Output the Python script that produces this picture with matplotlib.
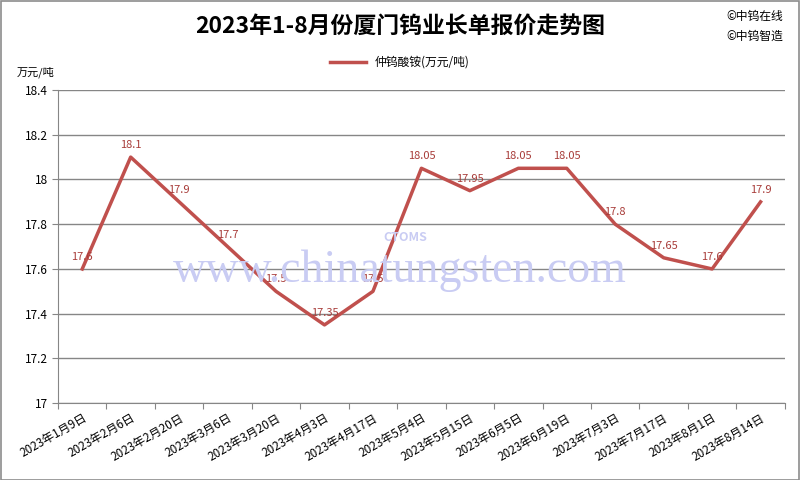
import matplotlib
matplotlib.use('Agg')
import matplotlib.pyplot as plt

plt.rcParams['font.family'] = ['Noto Sans CJK SC', 'DejaVu Sans']

DATES = ['2023年1月9日', '2023年2月6日', '2023年2月20日', '2023年3月6日',
         '2023年3月20日', '2023年4月3日', '2023年4月17日', '2023年5月4日',
         '2023年5月15日', '2023年6月5日', '2023年6月19日', '2023年7月3日',
         '2023年7月17日', '2023年8月1日', '2023年8月14日']
PRICES = [17.6, 18.1, 17.9, 17.7, 17.5, 17.35, 17.5, 18.05,
          17.95, 18.05, 18.05, 17.8, 17.65, 17.6, 17.9]
LABELS = ['17.6', '18.1', '17.9', '17.7', '17.5', '17.35', '17.5', '18.05',
          '17.95', '18.05', '18.05', '17.8', '17.65', '17.6', '17.9']
YTICKS = [17, 17.2, 17.4, 17.6, 17.8, 18, 18.2, 18.4]
YTICK_LABELS = ['17', '17.2', '17.4', '17.6', '17.8', '18', '18.2', '18.4']

LINE_C = '#C0504D'
GRID_C = '#868686'

fig = plt.figure(figsize=(8, 4.8), dpi=100)
fig.patches.append(plt.Rectangle((0.001, 0.001), 0.998, 0.997, transform=fig.transFigure,
                                 fill=False, edgecolor='#8c8c8c', linewidth=1.2))
ax = fig.add_axes([0.0725, 0.16, 0.9085, 0.6525])

# watermark
fig.text(0.5, 0.435, 'www.chinatungsten.com', family='Liberation Serif', fontsize=33,
         color='#c9ccf3', ha='center', va='center', zorder=0)
fig.text(0.507, 0.505, 'CTOMS', fontsize=9, fontweight='bold', style='italic',
         color='#c9ccf3', ha='center', va='center', zorder=0)

x = list(range(len(DATES)))
ax.plot(x, PRICES, color=LINE_C, linewidth=2.5, label='仲钨酸铵(万元/吨)', zorder=3)
for xi, yi, lab in zip(x, PRICES, LABELS):
    ax.annotate(lab, (xi, yi), xytext=(0, 5), textcoords='offset points',
                ha='center', va='bottom', fontsize=8, color='#a83c39', zorder=4)

ax.set_xlim(-0.5, len(DATES) - 0.5)
ax.set_ylim(17, 18.4)
ax.set_yticks(YTICKS)
ax.set_yticklabels(YTICK_LABELS, fontsize=8.5)
ax.set_xticks([i - 0.5 for i in range(len(DATES) + 1)], minor=False)
ax.set_xticklabels([''] * (len(DATES) + 1))
ax.set_xticks(x, minor=True)
ax.set_xticklabels(DATES, minor=True, rotation=30, ha='right', rotation_mode='anchor',
                   fontsize=8.5)
ax.tick_params(axis='x', which='minor', length=0, pad=6)
ax.tick_params(axis='x', which='major', length=4, color=GRID_C, direction='out')
ax.tick_params(axis='y', length=4, color=GRID_C, pad=3)
ax.grid(axis='y', color=GRID_C, linewidth=1)
ax.set_axisbelow(True)
for s in ['top', 'right']:
    ax.spines[s].set_visible(False)
for s in ['left', 'bottom']:
    ax.spines[s].set_color(GRID_C)
ax.patch.set_alpha(0)

fig.text(0.5, 0.943, '2023年1-8月份厦门钨业长单报价走势图', fontsize=16.5, fontweight='bold',
         ha='center', va='center')
fig.text(0.908, 0.965, '©中钨在线', fontsize=8.5, ha='left', va='center')
fig.text(0.908, 0.925, '©中钨智造', fontsize=8.5, ha='left', va='center')
fig.text(0.045, 0.85, '万元/吨', fontsize=8, ha='center', va='center')
fig.legend(loc='center', bbox_to_anchor=(0.5, 0.87), frameon=False, fontsize=8.5,
           handlelength=3)

fig.savefig('out.png', dpi=100)
